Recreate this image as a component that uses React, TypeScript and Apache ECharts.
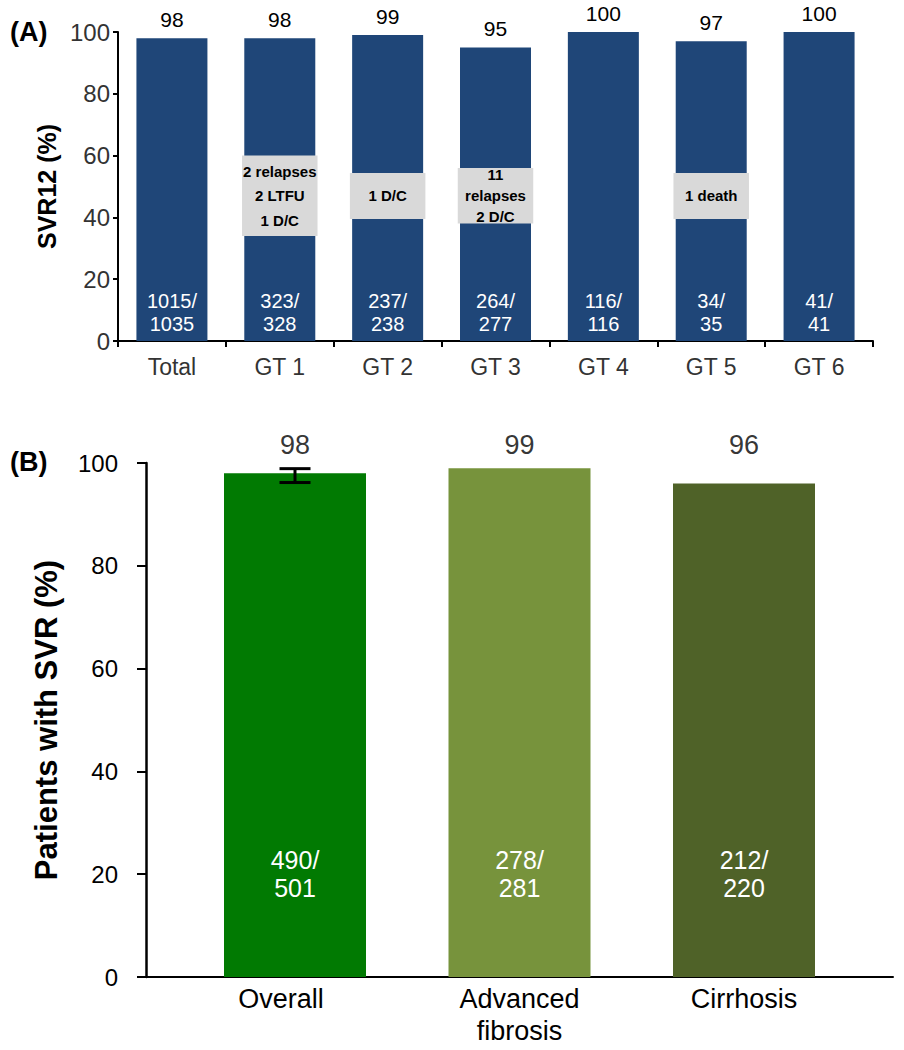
import React, { useEffect, useRef } from "react";
import * as echarts from "echarts";

// ---------- Panel A data ----------
const catsA = ["Total", "GT 1", "GT 2", "GT 3", "GT 4", "GT 5", "GT 6"];
const svrA = [98, 98, 99, 95, 100, 97, 100];
const respA = [1015, 323, 237, 264, 116, 34, 41];
const totalA = [1035, 328, 238, 277, 116, 35, 41];

// annotation boxes (category, text, low/high value extent)
const annoCat = ["GT 1", "GT 2", "GT 3", "GT 5"];
const annoText = ["2 relapses\n2 LTFU\n1 D/C", "1 D/C", "11\nrelapses\n2 D/C", "1 death"];
const annoLow = [34, 39.5, 38, 39.5];
const annoHigh = [60, 54.4, 56, 54.4];
const annoLineH = [24.5, 24, 21, 24];

// ---------- Panel B data ----------
const catsB = ["Overall", "Advanced\nfibrosis", "Cirrhosis"];
const svrB = [98, 99, 96];
const respB = [490, 278, 212];
const totalB = [501, 281, 220];
const colorsB = ["#017A02", "#77933C", "#4F6228"];
const ciCat = ["Overall"];
const ciLow = [96.2];
const ciHigh = [98.9];

const LABEL_LEVEL_B = 103.5;
const AR = '"Liberation Sans", Arial, sans-serif';

function buildOption(): any {
  return {
    animation: false,
    title: [
      { text: "(A)", left: 10, top: 18, padding: 0, textStyle: { fontFamily: AR, fontSize: 27, fontWeight: "bold", color: "#000" } },
      { text: "(B)", left: 10, top: 448, padding: 0, textStyle: { fontFamily: AR, fontSize: 27, fontWeight: "bold", color: "#000" } },
    ],
    grid: [
      { left: 118, right: 31, top: 32, height: 309 },
      { left: 146, right: 11, top: 463, height: 514 },
      { left: 182.75, width: 673.5, top: 463, height: 514 },
    ],
    xAxis: [
      {
        gridIndex: 0,
        type: "category",
        data: catsA,
        axisLine: { lineStyle: { color: "#000", width: 2 } },
        axisTick: { show: true, length: 6, lineStyle: { color: "#000", width: 2 } },
        axisLabel: { fontFamily: AR, fontSize: 23, color: "#333", margin: 14 },
      },
      {
        gridIndex: 1,
        type: "category",
        data: [""],
        axisLine: { lineStyle: { color: "#000", width: 2 } },
        axisTick: { show: false },
        axisLabel: { show: false },
      },
      {
        gridIndex: 2,
        type: "category",
        data: catsB.map((c, i) =>
          i === 0 ? { value: c, textStyle: { padding: [0, 28, 0, 0] } } : c
        ),
        axisLine: { show: false },
        axisTick: { show: false },
        axisLabel: { fontFamily: AR, fontSize: 27, color: "#000", margin: 6, lineHeight: 32 },
      },
    ],
    yAxis: [
      {
        gridIndex: 0,
        type: "value",
        min: 0,
        max: 100,
        interval: 20,
        splitLine: { show: false },
        axisLine: { show: true, lineStyle: { color: "#000", width: 2 } },
        axisTick: { show: true, length: 5, lineStyle: { color: "#000", width: 2 } },
        axisLabel: { fontFamily: AR, fontSize: 24, color: "#333", margin: 8 },
        name: "SVR12 (%)",
        nameLocation: "middle",
        nameGap: 58,
        nameTextStyle: { fontFamily: AR, fontSize: 25, fontWeight: "bold", color: "#000" },
      },
      {
        gridIndex: 1,
        type: "value",
        min: 0,
        max: 100,
        interval: 20,
        splitLine: { show: false },
        axisLine: { show: true, lineStyle: { color: "#000", width: 2.5 } },
        axisTick: { show: true, length: 9, lineStyle: { color: "#000", width: 2 } },
        axisLabel: { fontFamily: AR, fontSize: 24, color: "#000", margin: 28 },
        name: "Patients with SVR (%)",
        nameLocation: "middle",
        nameGap: 84,
        nameTextStyle: { fontFamily: AR, fontSize: 31, fontWeight: "bold", color: "#000" },
      },
      {
        gridIndex: 2,
        type: "value",
        min: 0,
        max: 100,
        show: false,
      },
    ],
    series: [
      {
        type: "bar",
        xAxisIndex: 0,
        yAxisIndex: 0,
        data: svrA,
        barWidth: 71,
        barGap: "-100%",
        silent: true,
        z: 2,
        itemStyle: { color: "#1F4678" },
        label: {
          show: true,
          position: "insideBottom",
          distance: 6,
          formatter: (p: any) => `${respA[p.dataIndex]}/\n${totalA[p.dataIndex]}`,
          fontFamily: AR,
          fontSize: 20,
          lineHeight: 23,
          color: "#fff",
        },
      },
      {
        type: "bar",
        xAxisIndex: 0,
        yAxisIndex: 0,
        data: svrA,
        barWidth: 71,
        barGap: "-100%",
        silent: true,
        z: 2,
        itemStyle: { color: "rgba(0,0,0,0)" },
        label: {
          show: true,
          position: "top",
          distance: 8,
          fontFamily: AR,
          fontSize: 21,
          color: "#000",
        },
      },
      {
        type: "custom",
        xAxisIndex: 0,
        yAxisIndex: 0,
        silent: true,
        animation: false,
        z: 10,
        data: annoCat.map((c, i) => [catsA.indexOf(c), annoLow[i], annoHigh[i]]),
        renderItem: (params: any, api: any) => {
          const x = api.value(0);
          const top = api.coord([x, api.value(2)]);
          const bot = api.coord([x, api.value(1)]);
          const w = api.size([1, 0])[0] * 0.7;
          const i = params.dataIndex;
          return {
            type: "group",
            children: [
              {
                type: "rect",
                shape: { x: top[0] - w / 2, y: top[1], width: w, height: bot[1] - top[1] },
                style: { fill: "#D9D9D9", opacity: 1 },
              },
              {
                type: "text",
                x: top[0],
                y: (top[1] + bot[1]) / 2,
                style: {
                  text: annoText[i],
                  fontFamily: AR,
                  fontSize: 15,
                  fontWeight: "bold",
                  fill: "#000",
                  opacity: 1,
                  align: "center",
                  verticalAlign: "middle",
                  lineHeight: annoLineH[i],
                },
              },
            ],
          };
        },
      },
      {
        type: "bar",
        xAxisIndex: 2,
        yAxisIndex: 2,
        barWidth: 142,
        silent: true,
        z: 2,
        data: svrB.map((v, i) => ({ value: v, itemStyle: { color: colorsB[i] } })),
        label: {
          show: true,
          position: "insideBottom",
          distance: 75,
          formatter: (p: any) => `${respB[p.dataIndex]}/\n${totalB[p.dataIndex]}`,
          fontFamily: AR,
          fontSize: 25,
          lineHeight: 28,
          color: "#fff",
        },
      },
      {
        type: "custom",
        xAxisIndex: 2,
        yAxisIndex: 2,
        silent: true,
        animation: false,
        z: 10,
        data: ciCat.map((c, i) => [catsB.indexOf(c), ciLow[i], ciHigh[i]]),
        renderItem: (params: any, api: any) => {
          const x = api.value(0);
          const lo = api.coord([x, api.value(1)]);
          const hi = api.coord([x, api.value(2)]);
          const hw = 15.5;
          const st = { stroke: "#000", lineWidth: 3, opacity: 1 };
          return {
            type: "group",
            children: [
              { type: "line", shape: { x1: lo[0], y1: lo[1], x2: hi[0], y2: hi[1] }, style: st },
              { type: "line", shape: { x1: lo[0] - hw, y1: lo[1], x2: lo[0] + hw, y2: lo[1] }, style: st },
              { type: "line", shape: { x1: hi[0] - hw, y1: hi[1], x2: hi[0] + hw, y2: hi[1] }, style: st },
            ],
          };
        },
      },
      {
        type: "scatter",
        xAxisIndex: 2,
        yAxisIndex: 2,
        silent: true,
        clip: false,
        symbolSize: 1,
        itemStyle: { color: "rgba(0,0,0,0)" },
        data: catsB.map((c, i) => [i, LABEL_LEVEL_B]),
        label: {
          show: true,
          position: "inside",
          formatter: (p: any) => `${svrB[p.dataIndex]}`,
          fontFamily: AR,
          fontSize: 27,
          color: "#000",
        },
      },
    ],
  };
}

export default function App() {
  const ref = useRef<HTMLDivElement>(null);
  useEffect(() => {
    document.body.style.margin = "0";
    if (!ref.current) return;
    const chart = echarts.init(ref.current, null, { renderer: "svg" });
    chart.setOption(buildOption());
    return () => chart.dispose();
  }, []);
  return <div ref={ref} style={{ width: 904, height: 1050, background: "#fff" }} />;
}
